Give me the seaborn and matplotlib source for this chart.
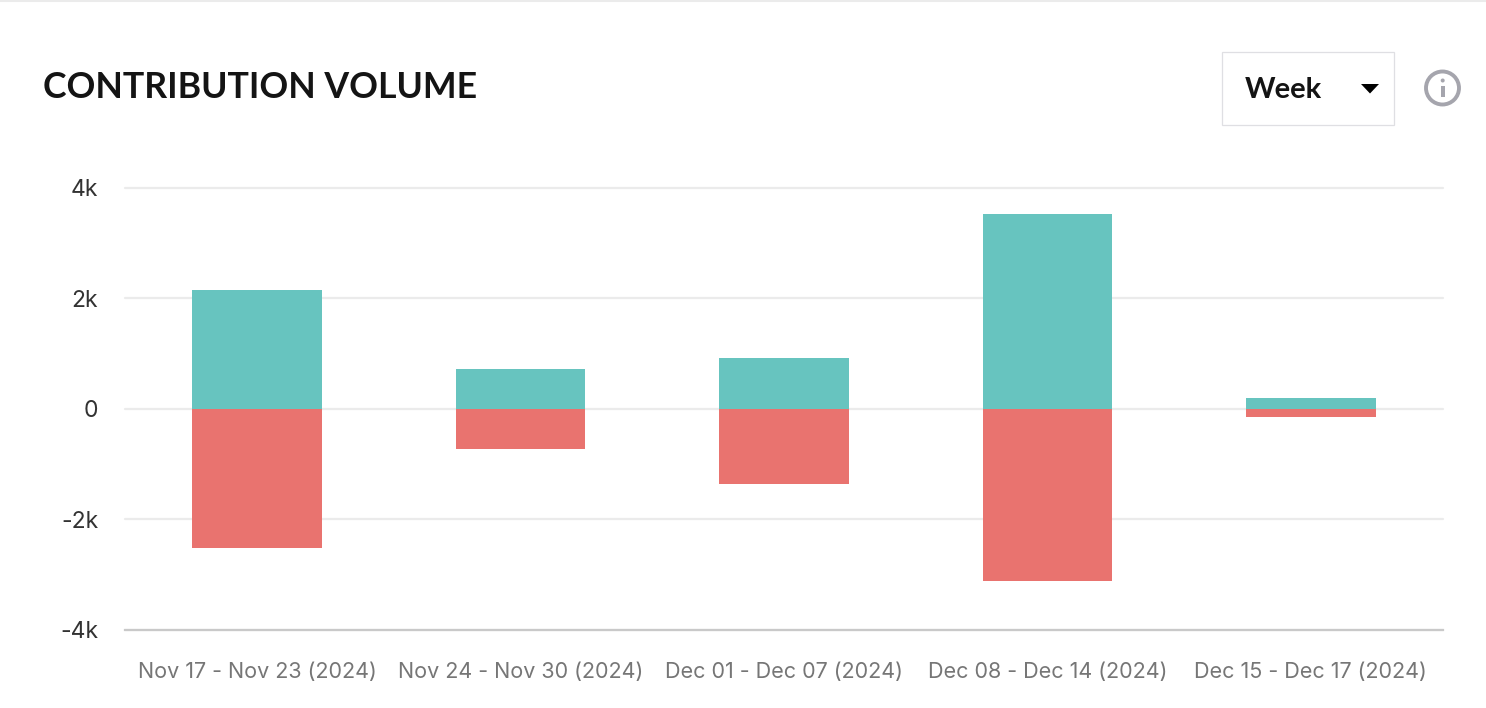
import matplotlib
matplotlib.use("Agg")
import matplotlib.pyplot as plt
from matplotlib.patches import Rectangle, Circle, Polygon
import pandas as pd
import seaborn as sns

periods = ["Nov 17 - Nov 23 (2024)", "Nov 24 - Nov 30 (2024)", "Dec 01 - Dec 07 (2024)",
           "Dec 08 - Dec 14 (2024)", "Dec 15 - Dec 17 (2024)"]
inflow = [2150, 720, 920, 3520, 200]
outflow = [-2520, -735, -1360, -3110, -150]
y_ticks = [-4000, -2000, 0, 2000, 4000]
y_labels = ["-4k", "-2k", "0", "2k", "4k"]
title = "CONTRIBUTION VOLUME"
dropdown = "Week"

W, H = 1486, 708
sns.set_theme(style="white")
plt.rcParams["font.family"] = ["Inter", "DejaVu Sans"]

df = pd.DataFrame({"period": periods * 2,
                   "value": inflow + outflow,
                   "kind": ["in"] * 5 + ["out"] * 5})

fig = plt.figure(figsize=(W / 100, H / 100), dpi=100, facecolor="white")
ax = fig.add_axes([125.4 / W, 1 - 630 / H, (1442.6 - 125.4) / W, (630 - 187.5) / H])
sns.barplot(data=df, x="period", y="value", hue="kind", dodge=False, width=0.493,
            palette={"in": "#67c4bf", "out": "#e9736f"}, saturation=1, legend=False,
            zorder=3, ax=ax, linewidth=0)

ax.set_xlim(-0.5, 4.5)
ax.set_ylim(-4000, 4000)
ax.set_xlabel("")
ax.set_ylabel("")
ax.set_yticks(y_ticks, y_labels)
ax.grid(axis="y", color="#ebebeb", linewidth=1.6, zorder=0, clip_on=False)
ax.grid(axis="x", visible=False)
ax.set_axisbelow(True)
for s in ["top", "left", "right"]:
    ax.spines[s].set_visible(False)
ax.spines["bottom"].set_color("#c9c9c9")
ax.spines["bottom"].set_linewidth(1.6)
ax.tick_params(axis="y", length=0, pad=19.5, labelsize=16.5, labelcolor="#333333")
ax.tick_params(axis="x", length=0, pad=23, labelsize=15.5, labelcolor="#767676")

# page furniture, placed in pixel coordinates of the screenshot
chrome = fig.add_axes([0, 0, 1, 1], zorder=5)
chrome.set_xlim(0, W)
chrome.set_ylim(H, 0)
chrome.axis("off")
chrome.plot([0, W], [0.5, 0.5], color="#ebebeb", lw=1.5)
chrome.text(43, 87, title, family="Lato", fontweight="bold", fontsize=25.7,
            color="#141414", va="center", ha="left")
chrome.add_patch(Rectangle((1222, 52), 172, 73, fc="white", ec="#dfdfe3", lw=0.9))
chrome.text(1245, 90, dropdown, family="Lato", fontweight="bold", fontsize=21,
            color="#141414", va="center", ha="left")
chrome.add_patch(Polygon([(1361, 84), (1379, 84), (1370, 93.5)], closed=True, fc="black", ec="none"))
chrome.add_patch(Circle((1442.5, 88), 16.5, fc="white", ec="#a5a5ad", lw=2.8))
chrome.add_patch(Rectangle((1441, 86), 3.5, 11, fc="#a5a5ad", ec="none"))
chrome.add_patch(Circle((1442.7, 80.5), 2, fc="#a5a5ad", ec="none"))

fig.savefig("out.png", dpi=100, facecolor="white")
